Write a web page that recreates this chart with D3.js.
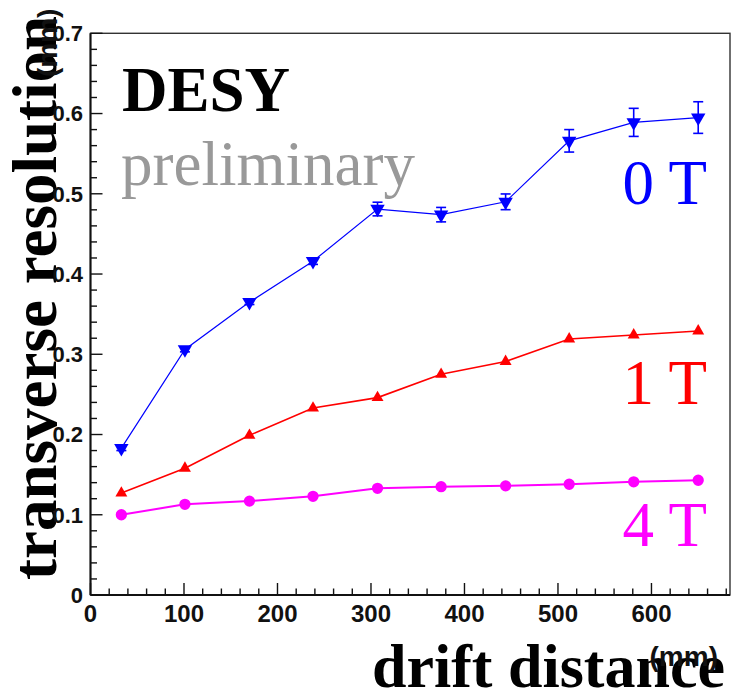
<!DOCTYPE html>
<html>
<head>
<meta charset="utf-8">
<script src="https://cdn.jsdelivr.net/npm/d3@7"></script>
<style>
  body { margin: 0; background: #fff; }
  svg { display: block; }
</style>
</head>
<body>
<svg></svg>
<script>
var width = 736;
var height = 693;

// drift distance (mm) of each measured point
var drift = [33, 101, 170, 238, 307, 375, 444, 512, 581, 650];

// transverse resolution (mm) for each field
var res0T = [0.183, 0.306, 0.365, 0.416, 0.481, 0.474, 0.490, 0.566, 0.589, 0.595];
var err0T = [0.003, 0.003, 0.003, 0.004, 0.0085, 0.009, 0.0098, 0.014, 0.0175, 0.0197];
var res1T = [0.127, 0.158, 0.199, 0.233, 0.246, 0.275, 0.291, 0.319, 0.324, 0.329];
var res4T = [0.100, 0.113, 0.117, 0.123, 0.133, 0.135, 0.136, 0.138, 0.141, 0.143];

var xTicks = [0, 100, 200, 300, 400, 500, 600];
var yTicks = [0, 0.1, 0.2, 0.3, 0.4, 0.5, 0.6, 0.7];

var margin = {left: 90.5, top: 33.3, right: 730, bottom: 595};

var x = d3.scaleLinear().domain([0, 684]).range([margin.left, margin.right]);
var y = d3.scaleLinear().domain([0, 0.7]).range([margin.bottom, margin.top]);

var svg = d3.select("svg")
    .attr("width", width)
    .attr("height", height);

var serif = "'Liberation Serif', 'Times New Roman', serif";
var sans = "'Liberation Sans', Arial, sans-serif";

//frame
svg.append("rect")
    .attr("x", margin.left)
    .attr("y", margin.top)
    .attr("width", margin.right - margin.left)
    .attr("height", margin.bottom - margin.top)
    .attr("fill", "none")
    .attr("stroke", "#333")
    .attr("stroke-width", 1.4);

//minor ticks (5 subdivisions)
var xMinor = d3.range(0, 684, 20);
var yMinor = d3.range(0, 0.701, 0.02);

svg.append("g").selectAll("line")
    .data(xMinor)
    .enter().append("line")
    .attr("x1", function(d) { return x(d); })
    .attr("x2", function(d) { return x(d); })
    .attr("y1", margin.bottom)
    .attr("y2", function(d) { return margin.bottom - (Math.round(d) % 100 == 0 ? 12 : 6.5); })
    .attr("stroke", "#111")
    .attr("stroke-width", 1.4);

svg.append("g").selectAll("line")
    .data(yMinor)
    .enter().append("line")
    .attr("y1", function(d) { return y(d); })
    .attr("y2", function(d) { return y(d); })
    .attr("x1", margin.left)
    .attr("x2", function(d) { return margin.left + (Math.round(d * 100) % 10 == 0 ? 12 : 6.5); })
    .attr("stroke", "#111")
    .attr("stroke-width", 1.4);

//axis lines
svg.append("line")
    .attr("x1", margin.left).attr("x2", margin.right)
    .attr("y1", margin.bottom).attr("y2", margin.bottom)
    .attr("stroke", "#111").attr("stroke-width", 2);
svg.append("line")
    .attr("x1", margin.left).attr("x2", margin.left)
    .attr("y1", margin.top).attr("y2", margin.bottom)
    .attr("stroke", "#111").attr("stroke-width", 2);

//tick labels
svg.append("g").selectAll("text")
    .data(xTicks)
    .enter().append("text")
    .attr("x", function(d) { return x(d); })
    .attr("y", 622)
    .attr("text-anchor", "middle")
    .style("font-family", sans)
    .style("font-weight", "bold")
    .style("font-size", "24px")
    .attr("fill", "#111")
    .text(function(d) { return d; });

//axis titles
svg.append("text")
    .attr("transform", "translate(56,580) rotate(-90)")
    .style("font-family", serif)
    .style("font-weight", "bold")
    .style("font-size", "63px")
    .attr("fill", "#000")
    .text("transverse resolution");

svg.append("text")
    .attr("transform", "translate(57,77) rotate(-90)")
    .style("font-family", sans)
    .style("font-weight", "bold")
    .style("font-size", "28px")
    .attr("fill", "#111")
    .text("(mm)");

svg.append("g").selectAll("text")
    .data(yTicks)
    .enter().append("text")
    .attr("x", 83)
    .attr("y", function(d) { return y(d); })
    .attr("dy", "0.36em")
    .attr("text-anchor", "end")
    .style("font-family", sans)
    .style("font-weight", "bold")
    .style("font-size", "22px")
    .attr("fill", "#111")
    .text(function(d) { return d == 0 ? "0" : d3.format(".1f")(d); });

svg.append("text")
    .attr("x", 725)
    .attr("y", 687)
    .attr("text-anchor", "end")
    .style("font-family", serif)
    .style("font-weight", "bold")
    .style("font-size", "62px")
    .attr("fill", "#000")
    .text("drift distance");

svg.append("text")
    .attr("x", 718)
    .attr("y", 666)
    .attr("text-anchor", "end")
    .style("font-family", sans)
    .style("font-weight", "bold")
    .style("font-size", "28px")
    .attr("fill", "#111")
    .text("(mm)");

//labels inside the frame
svg.append("text")
    .attr("x", 122).attr("y", 111)
    .style("font-family", serif)
    .style("font-weight", "bold")
    .style("font-size", "63px")
    .attr("fill", "#000")
    .text("DESY");

svg.append("text")
    .attr("x", 121).attr("y", 185)
    .style("font-family", serif)
    .style("font-size", "63px")
    .attr("fill", "#999")
    .text("preliminary");

var fieldLabels = [
    {text: "0 T", color: "#0000ff", y: 204},
    {text: "1 T", color: "#ff0000", y: 404},
    {text: "4 T", color: "#ff00ff", y: 546}
];

svg.append("g").selectAll("text")
    .data(fieldLabels)
    .enter().append("text")
    .attr("x", 707)
    .attr("y", function(d) { return d.y; })
    .attr("text-anchor", "end")
    .style("font-family", serif)
    .style("font-size", "63px")
    .attr("fill", function(d) { return d.color; })
    .text(function(d) { return d.text; });

//data series
var series = [
    {vals: res4T, color: "#ff00ff", width: 2, symbol: d3.symbolCircle, size: 100, rot: 0},
    {vals: res1T, color: "#ff0000", width: 1.6, symbol: d3.symbolTriangle, size: 62, rot: 0},
    {vals: res0T, color: "#0000ff", width: 1.2, symbol: d3.symbolTriangle, size: 90, rot: 180, err: err0T}
];

var line = d3.line()
    .x(function(d) { return x(d[0]); })
    .y(function(d) { return y(d[1]); });

series.forEach(function(s) {
    var pts = drift.map(function(dx, i) { return [dx, s.vals[i], s.err ? s.err[i] : 0]; });

    svg.append("path")
        .datum(pts)
        .attr("d", line)
        .attr("fill", "none")
        .attr("stroke", s.color)
        .attr("stroke-width", s.width);

    if (s.err) {
        var eb = svg.append("g")
            .attr("stroke", s.color)
            .attr("stroke-width", 1.6)
            .selectAll("g")
            .data(pts)
            .enter().append("g");
        eb.append("line")
            .attr("x1", function(d) { return x(d[0]); })
            .attr("x2", function(d) { return x(d[0]); })
            .attr("y1", function(d) { return y(d[1] - d[2]); })
            .attr("y2", function(d) { return y(d[1] + d[2]); });
        eb.append("line")
            .attr("x1", function(d) { return x(d[0]) - 5; })
            .attr("x2", function(d) { return x(d[0]) + 5; })
            .attr("y1", function(d) { return y(d[1] - d[2]); })
            .attr("y2", function(d) { return y(d[1] - d[2]); });
        eb.append("line")
            .attr("x1", function(d) { return x(d[0]) - 5; })
            .attr("x2", function(d) { return x(d[0]) + 5; })
            .attr("y1", function(d) { return y(d[1] + d[2]); })
            .attr("y2", function(d) { return y(d[1] + d[2]); });
    }

    svg.append("g").selectAll("path")
        .data(pts)
        .enter().append("path")
        .attr("d", d3.symbol().type(s.symbol).size(s.size))
        .attr("transform", function(d) {
            return "translate(" + x(d[0]) + "," + y(d[1]) + ") rotate(" + s.rot + ")";
        })
        .attr("fill", s.color);
});
</script>
</body>
</html>
